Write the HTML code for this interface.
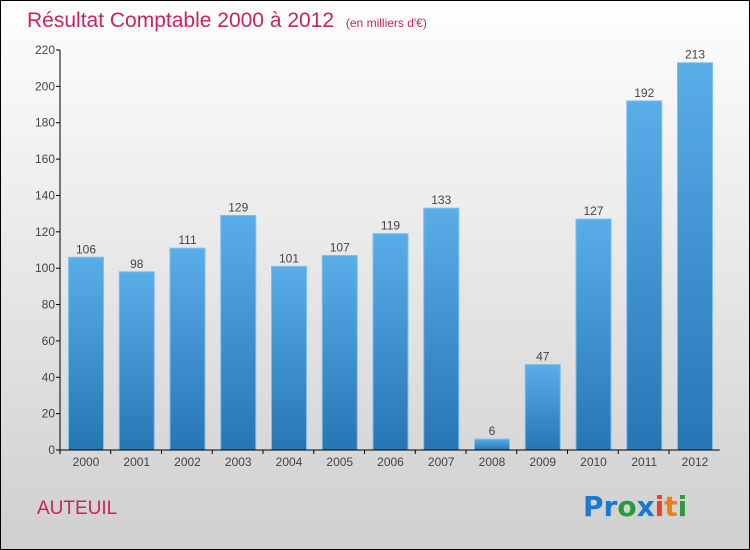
<!DOCTYPE html>
<html><head><meta charset="utf-8"><style>
body{margin:0}
#c{position:relative;width:748px;height:548px;border:1px solid #000;background:linear-gradient(#fefefe,#f0f0f0 30%,#cfcfcf);font-family:"Liberation Sans",sans-serif;overflow:hidden}
</style></head><body>
<div id="c">
<svg width="748" height="548" style="position:absolute;left:0;top:0" id="svg">
<defs><linearGradient id="bg" x1="0" y1="0" x2="0" y2="1"><stop offset="0" stop-color="#5aaee8"/><stop offset="1" stop-color="#2676b4"/></linearGradient></defs>
<text x="26" y="26" font-size="21" fill="#c8245e">Résultat Comptable 2000 à 2012 <tspan font-size="12" dx="6">(en milliers d'€)</tspan></text>
<text x="36" y="513" font-size="19" fill="#c8245e">AUTEUIL</text>
<g id="plot"></g>
<text x="582" y="515" font-size="28" font-weight="bold" font-family="'DejaVu Sans',sans-serif"><tspan fill="#1a78d0">Pr</tspan><tspan fill="#2a9a40">o</tspan><tspan fill="#1a78d0">x</tspan><tspan fill="#f04020">i</tspan><tspan fill="#f08010">t</tspan><tspan fill="#2a9a40">i</tspan></text>
</svg>
</div>
<script>
const categories=["2000","2001","2002","2003","2004","2005","2006","2007","2008","2009","2010","2011","2012"];
const values=[106,98,111,129,101,107,119,133,6,47,127,192,213];
const yTicks=[0,20,40,60,80,100,120,140,160,180,200,220];
const x0=59,y0=449,band=50.75,yScale=v=>y0-v*400/220;
const g=document.getElementById('plot');
const NS='http://www.w3.org/2000/svg';
function mk(t,a){const e=document.createElementNS(NS,t);for(const k in a)e.setAttribute(k,a[k]);g.appendChild(e);return e;}
categories.forEach((c,i)=>{
 const x=x0+i*band+8.5,y=yScale(values[i]);
 const r=mk('rect',{x:x,y:y,width:35,height:y0-y,fill:'url(#bg)',stroke:'#7cc0ee','stroke-width':1});
 
 
 const t=mk('text',{x:x+17.5,y:y-4,'font-size':12,'text-anchor':'middle',fill:'#444'});t.textContent=values[i];
 
 
 const l=mk('text',{x:x+17.5,y:y0+16,'font-size':12,'text-anchor':'middle',fill:'#444'});l.textContent=c;
 
 
 const tk=mk('line',{x1:x0+i*band,x2:x0+i*band,y1:y0,y2:y0+4,stroke:'#000'});
 
 
});
yTicks.forEach(v=>{
 const y=yScale(v);
 const l=mk('line',{x1:x0-4,x2:x0,y1:y,y2:y,stroke:'#000'});
 
 
 const t=mk('text',{x:x0-5,y:y+4,'font-size':12,'text-anchor':'end',fill:'#444'});t.textContent=v;
 
 
});
const ya=mk('line',{x1:x0,x2:x0,y1:yScale(220),y2:y0,stroke:'#000'});


const xa=mk('line',{x1:x0,x2:x0+13*band,y1:y0,y2:y0,stroke:'#000'});


</script>
</body></html>
